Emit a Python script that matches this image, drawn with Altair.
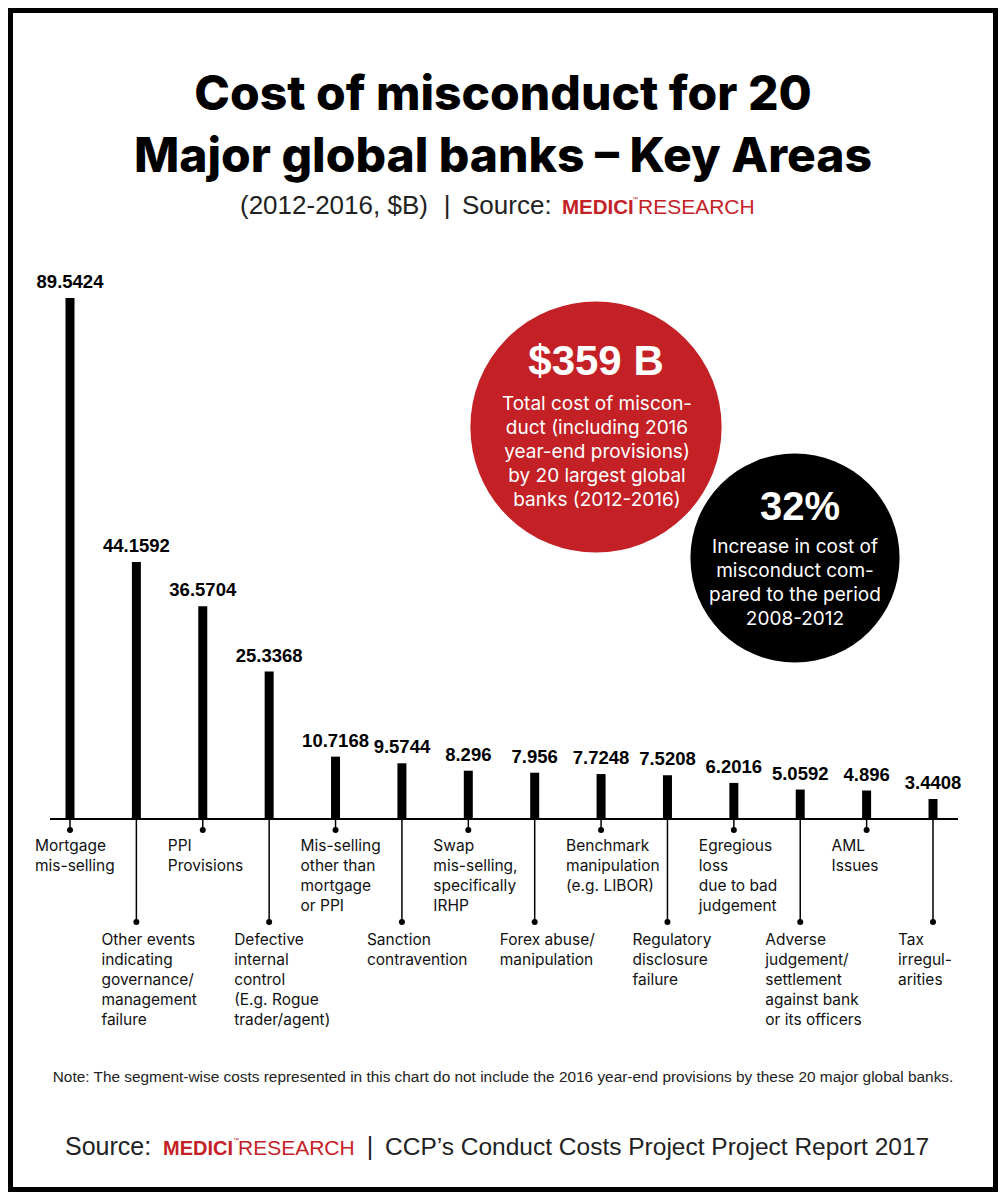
import math
import altair as alt
import pandas as pd

# ---------------- data ----------------
categories = [
    "Mortgage\nmis-selling",
    "Other events\nindicating\ngovernance/\nmanagement\nfailure",
    "PPI\nProvisions",
    "Defective\ninternal\ncontrol\n(E.g. Rogue\ntrader/agent)",
    "Mis-selling\nother than\nmortgage\nor PPI",
    "Sanction\ncontravention",
    "Swap\nmis-selling,\nspecifically\nIRHP",
    "Forex abuse/\nmanipulation",
    "Benchmark\nmanipulation\n(e.g. LIBOR)",
    "Regulatory\ndisclosure\nfailure",
    "Egregious\nloss\ndue to bad\njudgement",
    "Adverse\njudgement/\nsettlement\nagainst bank\nor its officers",
    "AML\nIssues",
    "Tax\nirregul-\narities",
]
values = [89.5424, 44.1592, 36.5704, 25.3368, 10.7168, 9.5744, 8.296,
          7.956, 7.7248, 7.5208, 6.2016, 5.0592, 4.896, 3.4408]

title_lines = ["Cost of misconduct for 20", "Major global banks \u2013 Key Areas"]
subtitle_parts = ["(2012-2016, $B)", "|", "Source:", "MEDICI", "\u2122", "RESEARCH"]
big_total = "$359 B"
total_text = ["Total cost of miscon-", "duct (including 2016", "year-end provisions)",
              "by 20 largest global", "banks (2012-2016)"]
big_increase = "32%"
increase_text = ["Increase in cost of", "misconduct com-", "pared to the period", "2008-2012"]
note_text = ("Note: The segment-wise costs represented in this chart do not include the "
             "2016 year-end provisions by these 20 major global banks.")
source_parts = ["Source:", "MEDICI", "\u2122", "RESEARCH", "|",
                "CCP\u2019s Conduct Costs Project Project Report 2017"]

RED = "#c42127"

df = pd.DataFrame({
    "cat": categories,
    "value": values,
    "tier": [i % 2 for i in range(len(categories))],
})

x_enc = alt.X("cat:N", sort=None, axis=None,
              scale=alt.Scale(type="point", range=[62, 925], padding=0))
y_enc = alt.Y("value:Q", axis=None,
              scale=alt.Scale(domain=[0, max(values)], range=[811, 290], nice=False))

base = alt.Chart(df)

bars = base.mark_bar(size=9, color="black").encode(x=x_enc, y=y_enc)
vals = base.mark_text(baseline="middle", dy=-16, fontSize=18.5, fontWeight="bold",
                      font="Liberation Sans", color="black").encode(
    x=x_enc, y=y_enc, text=alt.Text("value:Q", format=".4~f"))

baseline = alt.Chart(pd.DataFrame({"v": [0]})).mark_rule(color="black", strokeWidth=2).encode(
    x=alt.value(42), x2=alt.value(950), y=alt.value(811))

short_f = base.transform_filter("datum.tier == 0")
long_f = base.transform_filter("datum.tier == 1")

short_rule = short_f.mark_rule(color="black", strokeWidth=1.5).encode(
    x=x_enc, y=alt.value(811), y2=alt.value(822))
long_rule = long_f.mark_rule(color="black", strokeWidth=1.5).encode(
    x=x_enc, y=alt.value(811), y2=alt.value(914))
short_dot = short_f.mark_circle(size=36, color="black", opacity=1).encode(
    x=x_enc, y=alt.value(822))
long_dot = long_f.mark_circle(size=36, color="black", opacity=1).encode(
    x=x_enc, y=alt.value(914))

lab_kw = dict(align="left", baseline="top", dx=-35, lineBreak="\n", lineHeight=20,
              font="Inter", fontSize=15.5, color="#111111")
short_lab = short_f.mark_text(**lab_kw).encode(x=x_enc, y=alt.value(831), text="cat:N")
long_lab = long_f.mark_text(**lab_kw).encode(x=x_enc, y=alt.value(925), text="cat:N")


def txt(text, x, y, size, color="black", weight="normal", font="Liberation Sans",
        align="center", baseline="alphabetic", **kw):
    return alt.Chart(pd.DataFrame({"t": [text]})).mark_text(
        align=align, baseline=baseline, fontSize=size, fontWeight=weight,
        font=font, color=color, **kw).encode(
        x=alt.value(x), y=alt.value(y), text="t:N")


one = pd.DataFrame({"v": [0]})
black_circle = alt.Chart(one).mark_circle(size=math.pi * 118 ** 2, color="black",
                                          opacity=1).encode(x=alt.value(787), y=alt.value(550))
red_circle = alt.Chart(one).mark_circle(size=math.pi * 144 ** 2, color=RED, opacity=1,
                                        stroke="white", strokeWidth=4).encode(
    x=alt.value(588), y=alt.value(419))

frame = alt.Chart(one).mark_rect(fillOpacity=0, stroke="black", strokeWidth=10).encode(
    x=alt.value(0), x2=alt.value(990), y=alt.value(0), y2=alt.value(1184))

GREY = "#222222"
layers = [
    frame,
    txt(title_lines[0], 495, 102, 48, weight=800, font="Inter"),
    txt(title_lines[1], 495, 164, 48, weight=800, font="Inter"),
    # subtitle
    txt(subtitle_parts[0], 232, 206, 26, color=GREY, align="left"),
    txt(subtitle_parts[1], 439, 206, 26, color=GREY),
    txt(subtitle_parts[2], 454, 206, 26, color=GREY, align="left"),
    txt(subtitle_parts[3], 554, 206, 20.5, color=RED, weight="bold", align="left"),
    txt(subtitle_parts[4], 624, 193, 6, color=RED, align="left"),
    txt(subtitle_parts[5], 630, 206, 21, color=RED, align="left"),
    # callout circles
    black_circle,
    red_circle,
    txt(big_total, 588, 367, 42, color="white", weight="bold"),
    txt("\n".join(total_text), 589, 387, 19, color="white", font="Inter",
        baseline="top", lineBreak="\n", lineHeight=24),
    txt(big_increase, 792, 512, 40, color="white", weight="bold"),
    txt("\n".join(increase_text), 787, 530, 19, color="white", font="Inter",
        baseline="top", lineBreak="\n", lineHeight=24),
    # bars
    baseline,
    bars,
    vals,
    short_rule, long_rule, short_dot, long_dot, short_lab, long_lab,
    # footer
    txt(note_text, 495, 1074, 15.4, color=GREY),
    txt(source_parts[0], 57, 1147, 25, color=GREY, align="left"),
    txt(source_parts[1], 155, 1147, 20, color=RED, weight="bold", align="left"),
    txt(source_parts[2], 225, 1134, 6, color=RED, align="left"),
    txt(source_parts[3], 230, 1147, 21, color=RED, align="left"),
    txt(source_parts[4], 362, 1147, 25, color=GREY),
    txt(source_parts[5], 377, 1147, 24.5, color=GREY, align="left"),
]

chart = alt.layer(*layers).properties(
    width=990, height=1184, padding=0,
    autosize=alt.AutoSizeParams(type="none"),
    background="white",
).configure_view(strokeWidth=0)

chart.save("out.html", embed_options={"renderer": "svg", "actions": False})
